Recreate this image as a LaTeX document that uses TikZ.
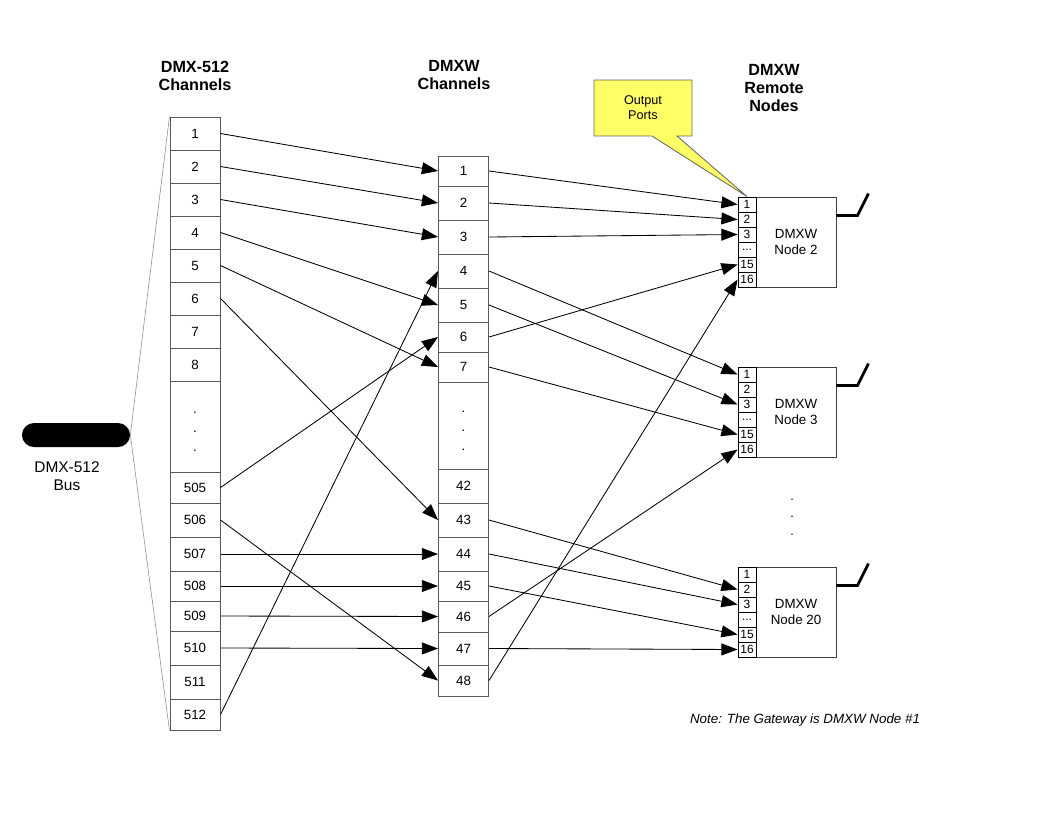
\documentclass[tikz,border=0pt]{standalone}
\usepackage{fontspec}
\setmainfont{Liberation Sans}
\usetikzlibrary{arrows.meta,calc}
\definecolor{calloutyellow}{RGB}{255,255,102}
\begin{document}
\begin{tikzpicture}[x=0.025cm,y=-0.025cm,
  cell/.style={draw=black!65, line width=0.7pt, minimum width=1.25cm, inner sep=0pt, align=center, font=\fontsize{9.5}{11}\selectfont},
  port/.style={draw, line width=0.6pt, minimum width=0.45cm, minimum height=0.375cm, inner sep=0pt, font=\fontsize{8.5}{9}\selectfont},
  nodebox/.style={draw=black!75, line width=0.6pt, minimum width=2cm, minimum height=2.25cm, align=center, font=\fontsize{9.5}{11.5}\selectfont},
  head/.style={align=center, font=\bfseries\fontsize{11.5}{12.8}\selectfont},
  link/.style={-{Triangle[length=11.5pt,width=8.5pt]}, line width=0.6pt},
  antenna/.style={line width=2pt},
  feed/.style={draw=black!45, line width=0.4pt}]
\useasboundingbox (0,0) rectangle (1056,816);
\node[head] (hleft) at (195,76) {DMX-512\\Channels};
\node[head] (hmid) at (454,75) {DMXW\\Channels};
\node[head] (hright) at (774,88) {DMXW\\Remote\\Nodes};
\node[fill=black, rounded corners=0.3cm, minimum width=2.7cm, minimum height=0.6cm, inner sep=0pt] (bus) at (76,435) {};
\node[align=center, font=\fontsize{11}{12.8}\selectfont] (buslabel) at (67,476) {DMX-512\\Bus};
\node[cell, minimum height=0.825cm] (l1) at (195,133.5) {1};
\node[cell, minimum height=0.825cm] (l2) at (195,166.5) {2};
\node[cell, minimum height=0.825cm] (l3) at (195,199.5) {3};
\node[cell, minimum height=0.825cm] (l4) at (195,232.5) {4};
\node[cell, minimum height=0.825cm] (l5) at (195,265.5) {5};
\node[cell, minimum height=0.825cm] (l6) at (195,298.5) {6};
\node[cell, minimum height=0.825cm] (l7) at (195,331.5) {7};
\node[cell, minimum height=0.825cm] (l8) at (195,364.5) {8};
\node[cell, minimum height=2.275cm] (ldots) at (195,426.5) {\rule{0pt}{8pt}.\\[2.5pt].\\[2.5pt].};
\node[cell, minimum height=0.775cm] (l505) at (195,487.5) {505};
\node[cell, minimum height=0.85cm] (l506) at (195,520) {506};
\node[cell, minimum height=0.85cm] (l507) at (195,554) {507};
\node[cell, minimum height=0.75cm] (l508) at (195,586) {508};
\node[cell, minimum height=0.75cm] (l509) at (195,616) {509};
\node[cell, minimum height=0.85cm] (l510) at (195,648) {510};
\node[cell, minimum height=0.85cm] (l511) at (195,682) {511};
\node[cell, minimum height=0.775cm] (l512) at (195,714.5) {512};
\draw[feed] (bus.east) -- (l1.north west);
\draw[feed] (bus.east) -- (l512.south west);
\node[cell, minimum height=0.75cm] (m1) at (463.5,171) {1};
\node[cell, minimum height=0.85cm] (m2) at (463.5,203) {2};
\node[cell, minimum height=0.85cm] (m3) at (463.5,237) {3};
\node[cell, minimum height=0.85cm] (m4) at (463.5,271) {4};
\node[cell, minimum height=0.85cm] (m5) at (463.5,305) {5};
\node[cell, minimum height=0.75cm] (m6) at (463.5,337) {6};
\node[cell, minimum height=0.75cm] (m7) at (463.5,367) {7};
\node[cell, minimum height=2.175cm] (mdots) at (463.5,425.5) {\rule{0pt}{8pt}.\\[2.5pt].\\[2.5pt].};
\node[cell, minimum height=0.85cm] (m42) at (463.5,486) {42};
\node[cell, minimum height=0.85cm] (m43) at (463.5,520) {43};
\node[cell, minimum height=0.85cm] (m44) at (463.5,554) {44};
\node[cell, minimum height=0.75cm] (m45) at (463.5,586) {45};
\node[cell, minimum height=0.775cm] (m46) at (463.5,616.5) {46};
\node[cell, minimum height=0.825cm] (m47) at (463.5,648.5) {47};
\node[cell, minimum height=0.775cm] (m48) at (463.5,680.5) {48};
\draw[link] (l1.east) -- (m1.west);
\draw[link] (l2.east) -- (m2.west);
\draw[link] (l3.east) -- (m3.west);
\draw[link] (l4.east) -- (m5.west);
\draw[link] (l5.east) -- (m7.west);
\draw[link] (l6.east) -- (m43.west);
\draw[link] (l505.east) -- (m6.west);
\draw[link] (l506.east) -- (m48.west);
\draw[link] (l507.east) -- (m44.west);
\draw[link] (l508.east) -- (m45.west);
\draw[link] (l509.east) -- (m46.west);
\draw[link] (l510.east) -- (m47.west);
\draw[link] (l512.east) -- (m4.west);
\node[nodebox] (n2) at (796,242) {DMXW\\Node 2};
\node[port] (n2p1) at (747,204.5) {1};
\node[port] (n2p2) at (747,219.5) {2};
\node[port] (n2p3) at (747,234.5) {3};
\node[port] (n2p4) at (747,249.5) {...};
\node[port] (n2p15) at (747,264.5) {15};
\node[port] (n2p16) at (747,279.5) {16};
\draw[antenna] ($(n2.north east)+(0,19)$) -- ++(21,0) -- ++(11,-22);
\node[nodebox] (n3) at (796,412) {DMXW\\Node 3};
\node[port] (n3p1) at (747,374.5) {1};
\node[port] (n3p2) at (747,389.5) {2};
\node[port] (n3p3) at (747,404.5) {3};
\node[port] (n3p4) at (747,419.5) {...};
\node[port] (n3p15) at (747,434.5) {15};
\node[port] (n3p16) at (747,449.5) {16};
\draw[antenna] ($(n3.north east)+(0,19)$) -- ++(21,0) -- ++(11,-22);
\node[nodebox] (n20) at (796,612) {DMXW\\Node 20};
\node[port] (n20p1) at (747,574.5) {1};
\node[port] (n20p2) at (747,589.5) {2};
\node[port] (n20p3) at (747,604.5) {3};
\node[port] (n20p4) at (747,619.5) {...};
\node[port] (n20p15) at (747,634.5) {15};
\node[port] (n20p16) at (747,649.5) {16};
\draw[antenna] ($(n20.north east)+(0,19)$) -- ++(21,0) -- ++(11,-22);
\node[align=center, font=\fontsize{9}{11}\selectfont] (more) at (792,517) {.\\[1.5pt].\\[1.5pt].};
\draw[link] (m1.east) -- (n2p1.west);
\draw[link] (m2.east) -- (n2p2.west);
\draw[link] (m3.east) -- (n2p3.west);
\draw[link] (m6.east) -- (n2p15.west);
\draw[link] (m48.east) -- (n2p16.west);
\draw[link] (m4.east) -- (n3p1.west);
\draw[link] (m5.east) -- (n3p3.west);
\draw[link] (m7.east) -- (n3p15.west);
\draw[link] (m46.east) -- (n3p16.west);
\draw[link] (m43.east) -- (n20p2.west);
\draw[link] (m44.east) -- (n20p3.west);
\draw[link] (m45.east) -- (n20p15.west);
\draw[link] (m47.east) -- (n20p16.west);
\draw[draw=black!60, fill=calloutyellow, line width=0.6pt] (594,80) -- (692,80) -- (692,136) -- (677,136) -- (n2p1.north) -- (652,136) -- (594,136) -- cycle;
\node[align=center, font=\fontsize{9}{10.5}\selectfont] (outports) at (643,108) {Output\\Ports};
\node[font=\itshape\fontsize{9.5}{11}\selectfont] (gwnote) at (805,720) {Note: The Gateway is DMXW Node \#1};
\end{tikzpicture}
\end{document}
